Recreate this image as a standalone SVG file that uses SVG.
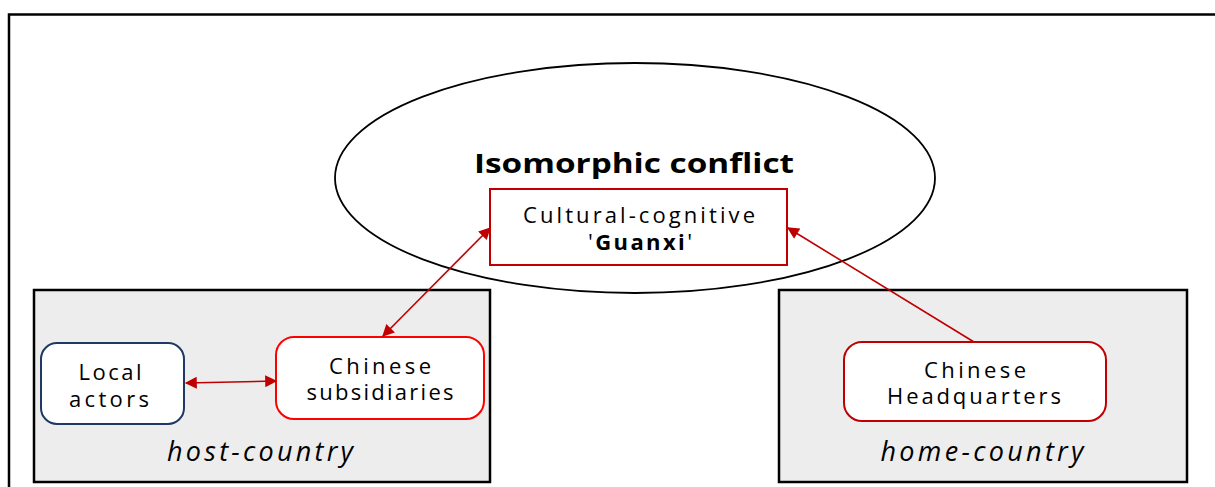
<svg xmlns="http://www.w3.org/2000/svg" width="1215" height="487" viewBox="0 0 1215 487">
<defs>
<marker id="ahb" viewBox="0 0 10 10" refX="9" refY="5" markerWidth="16" markerHeight="12" markerUnits="userSpaceOnUse" orient="auto-start-reverse">
<path d="M0,0 L10,5 L0,10 z" fill="#c00000"/>
</marker>
</defs>
<style>
text{font-family:"Open Sans","Noto Sans","Liberation Sans",sans-serif;fill:#000;text-anchor:middle}
.lbl{font-size:22px}
.reg{font-size:27px;font-style:italic}
.grp{fill:#ededed;stroke:#000;stroke-width:2.5}
.node{fill:#fff;stroke-width:2}
.conn{stroke:#c00000;stroke-width:1.6;fill:none}
</style>
<rect width="1215" height="487" fill="#fff"/>
<g id="frame">
<path d="M9,487 V14.5 H1215" fill="none" stroke="#000" stroke-width="2.5"/>
</g>
<g id="ellipse">
<ellipse cx="635" cy="178" rx="300" ry="115" fill="#fff" stroke="#000" stroke-width="1.8"/>
<text x="634" y="173" style="font-size:26px;font-weight:bold" textLength="320" lengthAdjust="spacingAndGlyphs">Isomorphic conflict</text>
</g>
<g id="host-country">
<rect class="grp" x="34" y="290" width="456" height="192"/>
<text class="reg" x="260" y="461" textLength="186">host-country</text>
</g>
<g id="home-country">
<rect class="grp" x="779" y="290" width="408" height="192"/>
<text class="reg" x="982" y="461" textLength="203">home-country</text>
</g>
<g id="cultural">
<rect class="node" x="490" y="189" width="297" height="76" stroke="#c00000"/>
<text class="lbl" x="639" y="223" textLength="232">Cultural-cognitive</text>
<text class="lbl" x="640" y="250" textLength="104">'<tspan font-weight="bold">Guanxi</tspan>'</text>
</g>
<g id="local">
<rect class="node" x="41" y="343" width="143" height="81" rx="16" stroke="#1f3864"/>
<text class="lbl" x="110" y="380" textLength="63">Local</text>
<text class="lbl" x="109" y="407" textLength="80">actors</text>
</g>
<g id="subsidiaries">
<rect class="node" x="276" y="337" width="208" height="82" rx="18" stroke="#ff0000"/>
<text class="lbl" x="380" y="374" textLength="102">Chinese</text>
<text class="lbl" x="380" y="400" textLength="147">subsidiaries</text>
</g>
<g id="hq">
<rect class="node" x="844" y="342" width="262" height="79" rx="18" stroke="#c00000"/>
<text class="lbl" x="975" y="378" textLength="102">Chinese</text>
<text class="lbl" x="974" y="404" textLength="174">Headquarters</text>
</g>
<g id="connectors">
<path class="conn" d="M383,336 L490,228" marker-start="url(#ahb)" marker-end="url(#ahb)"/>
<path class="conn" d="M186,383 L276,381" marker-start="url(#ahb)" marker-end="url(#ahb)"/>
<path class="conn" d="M974,342 L788,228" marker-end="url(#ahb)"/>
</g>
</svg>
